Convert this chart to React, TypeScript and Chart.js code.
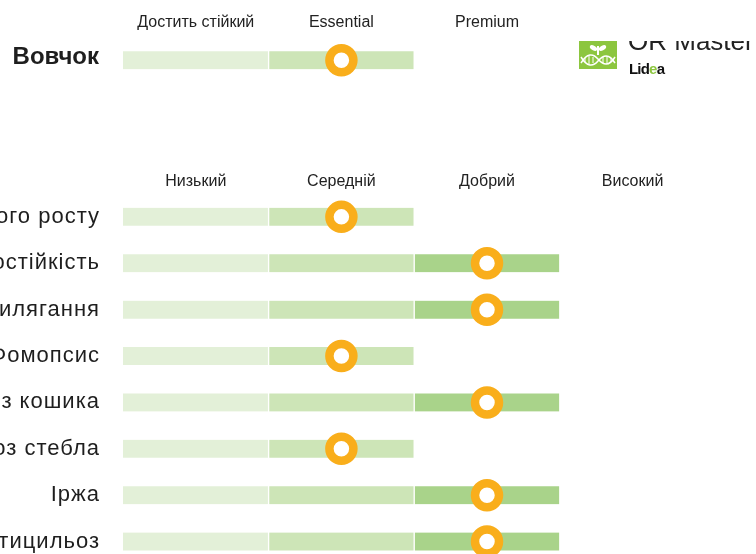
import React, { useEffect, useRef } from "react";
import { Chart, registerables } from "chart.js";

Chart.register(...registerables);

// ---- data ----
const topLevels = ["Достить стійкий", "Essential", "Premium", ""];
const topRows = ["Вовчок"];
const topRatings = [1]; // 0-based index into topLevels

const levels = ["Низький", "Середній", "Добрий", "Високий"];
const traits = [
  "Енергія початкового росту",
  "Посухостійкість",
  "Стійкість до вилягання",
  "Фомопсис",
  "Склеротиніоз кошика",
  "Склеротиніоз стебла",
  "Іржа",
  "Вертицильоз",
];
const ratings = [1, 2, 2, 1, 2, 1, 2, 2];

const segColors = ["#E3F0D8", "#CDE5B7", "#A9D38A", "#86C25A"];
const markerColor = "#F9AE1B";
const FONT = "'Liberation Sans', Arial, Helvetica, sans-serif";

function buildConfig(
  rows: string[],
  rs: number[],
  headers: string[],
  rowBold: boolean,
  rowSize: number,
  padTop: number,
  labelOffset: number,
  tracking: number
): any {
  const datasets: any[] = [];
  for (let k = 0; k < 4; k++) {
    datasets.push({
      type: "bar",
      data: rs.map((r) => (k <= r ? 1 : null)),
      backgroundColor: segColors[k],
      borderColor: "#ffffff",
      borderWidth: k === 0 ? { left: 0, right: 1, top: 0, bottom: 0 } : { left: 1, right: 1, top: 0, bottom: 0 },
      borderSkipped: false,
      barThickness: 18,
      xAxisID: "x",
      yAxisID: "y",
      order: 2,
      indexAxis: "y",
    });
  }
  datasets.push({
    type: "scatter",
    data: rs.map((r, i) => ({ x: r + 0.5, y: rows[i] })),
    pointRadius: 12,
    pointHoverRadius: 12,
    borderWidth: 8.5,
    pointBorderWidth: 8.5,
    borderColor: markerColor,
    backgroundColor: "#ffffff",
    xAxisID: "x",
    yAxisID: "y",
    order: 0,
    clip: false,
  });
  return {
    type: "bar",
    data: { labels: rows, datasets },
    options: {
      indexAxis: "y",
      animation: false,
      responsive: false,
      events: [],
      layout: { autoPadding: false, padding: { top: padTop, right: 50.6, left: 0, bottom: 0 } },
      plugins: { legend: { display: false }, tooltip: { enabled: false } },
      scales: {
        x: { type: "linear", min: 0, max: 4, stacked: true, display: false },
        x2: {
          type: "category",
          labels: headers,
          position: "top",
          offset: true,
          grid: { display: false, drawTicks: false },
          border: { display: false },
          ticks: { color: "#222222", padding: 2, font: { family: FONT, size: 16 }, autoSkip: false, maxRotation: 0 },
        },
        y: {
          type: "category",
          stacked: true,
          grid: { display: false, drawTicks: false },
          border: { display: false },
          afterFit: (scale: any) => {
            scale.width = 123;
            if (tracking && !scale._trackPatched) {
              const orig = scale.drawLabels;
              scale.drawLabels = function (area: any) {
                const ctx = this.ctx;
                ctx.save();
                try {
                  ctx.letterSpacing = tracking + "px";
                } catch (e) {}
                orig.call(this, area);
                ctx.restore();
              };
              scale._trackPatched = true;
            }
          },
          ticks: {
            color: "#1e1e1e",
            padding: 24 - tracking,
            labelOffset,
            autoSkip: false,
            font: { family: FONT, size: rowSize, weight: rowBold ? "bold" : "normal" },
          },
        },
      },
    },
  };
}

function ChartCanvas({ cfg, style, w, h }: { cfg: any; style: any; w: number; h: number }) {
  const ref = useRef<HTMLCanvasElement | null>(null);
  useEffect(() => {
    if (!ref.current) return;
    const c = new Chart(ref.current, cfg);
    return () => c.destroy();
  }, []);
  return <canvas ref={ref} width={w} height={h} style={{ position: "absolute", ...style, width: w, height: h }} />;
}

function Logo() {
  return (
    <div style={{ position: "absolute", left: 578, top: 41, width: 178, height: 40, overflow: "hidden" }}>
      <div style={{ position: "absolute", left: 1, top: 0, width: 38, height: 28, background: "#8CC63F" }}>
        <svg width="38" height="28" viewBox="0 0 38 28">
          <path d="M19 14 L19 5" stroke="#fff" strokeWidth="2" />
          <ellipse cx="14.5" cy="7" rx="4" ry="2.2" fill="#fff" transform="rotate(30 14.5 7)" />
          <ellipse cx="23.5" cy="7" rx="4" ry="2.2" fill="#fff" transform="rotate(-30 23.5 7)" />
          <path d="M2 16 C 8 26, 14 26, 19 20 S 30 12, 36 22" stroke="#fff" strokeWidth="1.5" fill="none" />
          <path d="M2 22 C 8 12, 14 12, 19 18 S 30 26, 36 16" stroke="#fff" strokeWidth="1.5" fill="none" />
          <path d="M6 17 V21 M10 15 V23 M14 16 V22 M24 16 V22 M28 15 V23 M32 17 V21" stroke="#fff" strokeWidth="1" />
        </svg>
      </div>
      <div
        style={{
          position: "absolute",
          left: 50,
          top: -13,
          fontFamily: FONT,
          fontSize: 26,
          lineHeight: "26px",
          color: "#222",
          whiteSpace: "nowrap",
        }}
      >
        OR Master
      </div>
      <div
        style={{
          position: "absolute",
          left: 51,
          top: 20,
          fontFamily: FONT,
          fontSize: 15,
          lineHeight: "15px",
          fontWeight: "bold",
          letterSpacing: "-0.8px",
          color: "#111",
          whiteSpace: "nowrap",
        }}
      >
        Lid<span style={{ color: "#8CC63F" }}>e</span>a
      </div>
    </div>
  );
}

export default function App() {
  const topCfg = buildConfig(topRows, topRatings, topLevels, true, 24, 17.6, -3, 0);
  const mainCfg = buildConfig(traits, ratings, levels, false, 22, 16.47, 0, 1);
  return (
    <div style={{ position: "fixed", left: 0, top: 0, width: 756, height: 554, overflow: "hidden", background: "#fff" }}>
      <ChartCanvas cfg={topCfg} style={{ left: 0, top: -7 }} w={756} h={132} />
      <ChartCanvas cfg={mainCfg} style={{ left: 0, top: 154 }} w={756} h={447} />
      <Logo />
    </div>
  );
}
